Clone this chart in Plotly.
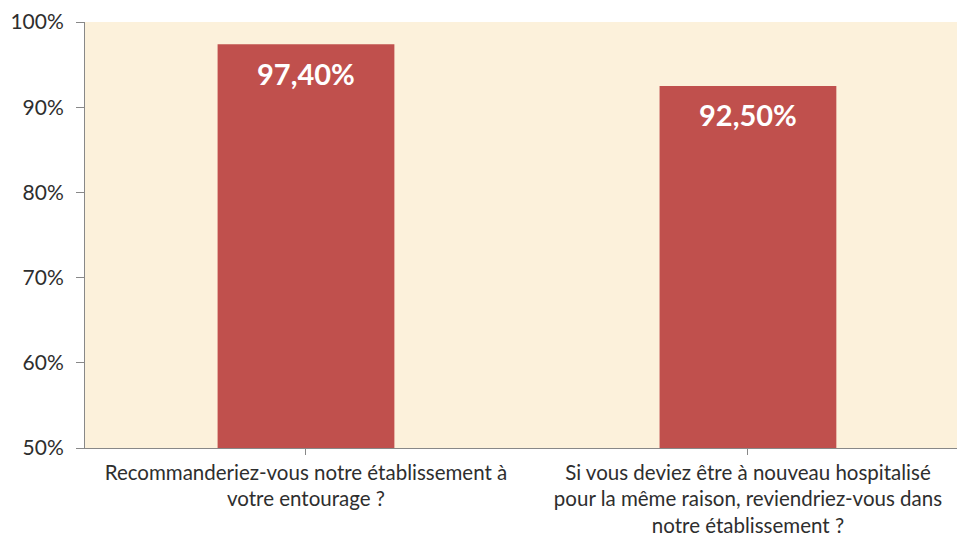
import plotly.graph_objects as go

categories = [
    "Recommanderiez-vous notre établissement à<br>votre entourage ?",
    "Si vous deviez être à nouveau hospitalisé<br>pour la même raison, reviendriez-vous dans<br>notre établissement ?",
]
values = [97.4, 92.5]
value_labels = ["97,40%", "92,50%"]
y_ticks = [50, 60, 70, 80, 90, 100]
y_tick_labels = ["50%", "60%", "70%", "80%", "90%", "100%"]

FONT = "Lato, Calibri, Carlito, sans-serif"

fig = go.Figure()
fig.add_trace(go.Bar(
    x=[0, 1],
    y=values,
    base=0,
    marker=dict(color="#C0504D", line=dict(width=0)),
    hoverinfo="skip",
))

for i, (v, lab) in enumerate(zip(values, value_labels)):
    fig.add_annotation(
        x=i, y=v, text="<b>" + lab + "</b>", showarrow=False,
        yanchor="middle", yshift=-29,
        font=dict(family=FONT, size=29, color="white"),
    )

fig.update_layout(
    width=957, height=537,
    margin=dict(l=85, r=0, t=22, b=87),
    paper_bgcolor="white",
    plot_bgcolor="#FCF1DB",
    showlegend=False,
    bargap=0.6,
    font=dict(family=FONT, color="#333333"),
)
fig.update_xaxes(
    range=[-0.5, 1.473],
    tickvals=[0, 1],
    ticktext=categories,
    tickson="boundaries",
    ticks="outside", ticklen=6, tickcolor="#888888",
    showline=True, linecolor="#888888", linewidth=1,
    showgrid=False, zeroline=False,
    tickfont=dict(family=FONT, size=20.5, color="#2e2e2e"),
)
fig.update_yaxes(
    range=[50, 100],
    tickvals=y_ticks, ticktext=y_tick_labels,
    ticks="outside", ticklen=8, tickcolor="#888888",
    ticklabelstandoff=8,
    showline=True, linecolor="#888888", linewidth=1,
    showgrid=False, zeroline=False,
    tickfont=dict(family=FONT, size=21, color="#2e2e2e"),
)

fig.write_html(
    "out.html",
    config={"displayModeBar": False},
    post_script="document.body.style.margin='0';document.body.style.overflow='hidden';",
)
